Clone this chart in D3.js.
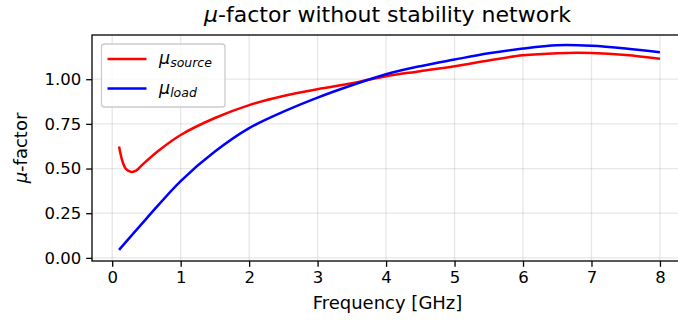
<!DOCTYPE html>
<html>
<head>
<meta charset="utf-8">
<script src="https://cdn.jsdelivr.net/npm/d3@7"></script>
<style>
	body { margin: 0; background: #fff; }
	text { font-family: "DejaVu Sans", sans-serif; fill: #000; }
	.grid line { stroke: #b0b0b0; stroke-opacity: 0.3; stroke-width: 1.3; }
	.axis path, .axis line { stroke: #000; stroke-width: 1.3; }
</style>
</head>
<body>
<svg id="chart" width="678" height="322"></svg>
<script>
(function () {
	// data
	var freqSource = [0.1, 0.15, 0.2, 0.28, 0.35, 0.45, 0.69, 1, 1.5, 2, 2.5, 3, 3.5, 3.74, 4, 4.5, 5, 5.5, 6, 6.5, 7, 7.5, 8];
	var muSource = [0.623, 0.54, 0.498, 0.481, 0.488, 0.525, 0.604, 0.688, 0.783, 0.855, 0.906, 0.944, 0.977, 0.997, 1.017, 1.045, 1.073, 1.105, 1.134, 1.146, 1.147, 1.136, 1.114];
	var freqLoad = [0.1, 0.5, 1, 1.5, 2, 2.5, 3, 3.5, 4, 4.5, 5, 5.5, 6, 6.5, 7, 7.5, 8];
	var muLoad = [0.045, 0.22, 0.43, 0.595, 0.726, 0.818, 0.897, 0.966, 1.028, 1.073, 1.11, 1.145, 1.172, 1.19, 1.187, 1.172, 1.151];
	var xTicks = [0, 1, 2, 3, 4, 5, 6, 7, 8];
	var yTicks = [0, 0.25, 0.5, 0.75, 1.0];

	var svg = d3.select("#chart");
	var left = 92, right = 687, top = 35, bottom = 261;

	var x = d3.scaleLinear().domain([-0.295, 8.395]).range([left, right]);
	var y = d3.scaleLinear().domain([-0.0175, 1.2475]).range([bottom, top]);

	// grid
	var grid = svg.append("g").attr("class", "grid");
	grid.selectAll("line.vx").data(xTicks).enter().append("line")
		.attr("x1", function (d) { return x(d) }).attr("x2", function (d) { return x(d) })
		.attr("y1", top).attr("y2", bottom);
	grid.selectAll("line.hy").data(yTicks).enter().append("line")
		.attr("y1", function (d) { return y(d) }).attr("y2", function (d) { return y(d) })
		.attr("x1", left).attr("x2", right);

	// lines
	var line = d3.line()
		.x(function (d) { return x(d[0]) })
		.y(function (d) { return y(d[1]) })
		.curve(d3.curveCatmullRom.alpha(0.5));

	svg.append("path")
		.datum(d3.zip(freqSource, muSource))
		.attr("d", line)
		.attr("fill", "none").attr("stroke", "#ff0000").attr("stroke-width", 2.5);
	svg.append("path")
		.datum(d3.zip(freqLoad, muLoad))
		.attr("d", line)
		.attr("fill", "none").attr("stroke", "#0000ff").attr("stroke-width", 2.5);

	// axes
	svg.append("g").attr("class", "axis")
		.attr("transform", "translate(0," + bottom + ")")
		.call(d3.axisBottom(x).tickValues(xTicks).tickSize(5.8).tickPadding(4).tickFormat(d3.format("d")));
	svg.append("g").attr("class", "axis")
		.attr("transform", "translate(" + left + ",0)")
		.call(d3.axisLeft(y).tickValues(yTicks).tickSize(5.8).tickPadding(5).tickFormat(d3.format(".2f")));
	svg.selectAll(".axis text").style("font-size", "16.5px").style("font-family", "DejaVu Sans");
	svg.selectAll(".axis .domain").remove();

	svg.append("rect")
		.attr("x", left).attr("y", top)
		.attr("width", right - left).attr("height", bottom - top)
		.attr("fill", "none").attr("stroke", "#000").attr("stroke-width", 1.3);

	// titles
	var title = svg.append("text")
		.attr("x", (left + right) / 2 - 2).attr("y", 22)
		.attr("text-anchor", "middle").style("font-size", "22px");
	title.append("tspan").style("font-style", "italic").text("μ");
	title.append("tspan").text("-factor without stability network");

	svg.append("text")
		.attr("x", (left + right) / 2 - 2).attr("y", 309)
		.attr("text-anchor", "middle").style("font-size", "18px")
		.text("Frequency [GHz]");

	var ylab = svg.append("text")
		.attr("transform", "translate(27," + ((top + bottom) / 2) + ") rotate(-90)")
		.attr("text-anchor", "middle").style("font-size", "18px");
	ylab.append("tspan").style("font-style", "italic").text("μ");
	ylab.append("tspan").text("-factor");

	// legend
	var legendData = [
		{ name: "source", color: "#ff0000" },
		{ name: "load", color: "#0000ff" }
	];
	var lg = svg.append("g").attr("class", "legend");
	lg.append("rect")
		.attr("x", 101.5).attr("y", 44).attr("width", 123.5).attr("height", 63)
		.attr("rx", 3).attr("fill", "#fff").attr("fill-opacity", 0.8)
		.attr("stroke", "#cccccc").attr("stroke-width", 1.3);
	var items = lg.selectAll("g.item").data(legendData).enter().append("g")
		.attr("transform", function (d, i) { return "translate(0," + (59 + 29.5 * i) + ")" });
	items.append("line")
		.attr("x1", 107.5).attr("x2", 146.5).attr("y1", 0).attr("y2", 0)
		.attr("stroke", function (d) { return d.color }).attr("stroke-width", 2.5);
	var lt = items.append("text").attr("x", 159).attr("y", 5).style("font-size", "17.5px").style("font-style", "italic");
	lt.append("tspan").text("μ");
	lt.append("tspan").attr("dy", 3).style("font-size", "12.5px").text(function (d) { return d.name });
})();
</script>
</body>
</html>
